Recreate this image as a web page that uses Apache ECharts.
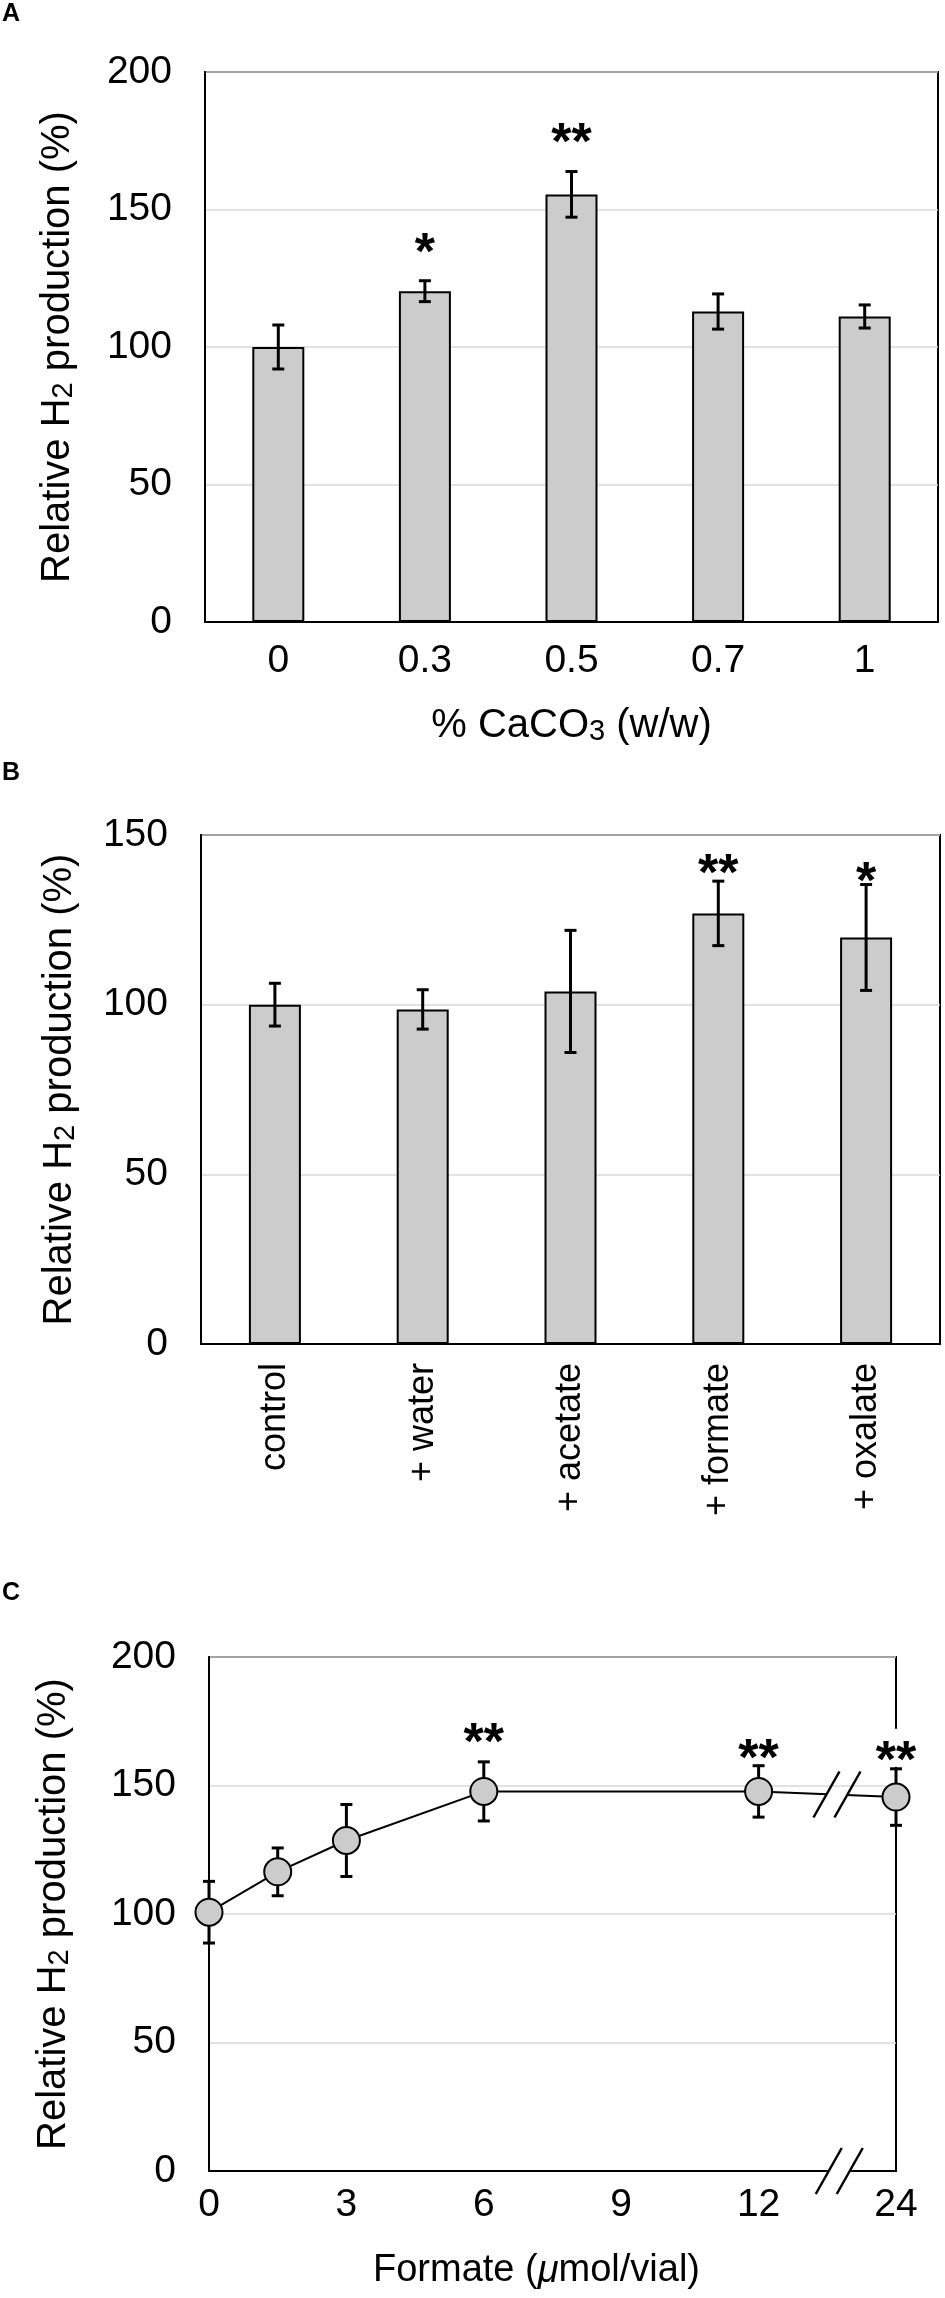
<!DOCTYPE html>
<html lang="en">

<head>
    <meta charset="UTF-8">
    <title>Relative H2 production</title>
    <script src="https://cdn.jsdelivr.net/npm/echarts@6.0.0/dist/echarts.min.js"></script>
    <style>
        body { margin: 0; background: #fff; }
        #main { width: 945px; height: 2298px; }
    </style>
</head>

<body>
    <div id="main"></div>
</body>
<script>
    // panel A: CaCO3 dose
    var catsA = ['0', '0.3', '0.5', '0.7', '1'];
    var meanA = [100, 120.3, 155.5, 112.9, 111.1];
    var errA = [8, 3.8, 8.3, 6.4, 4.2];
    var sigA = ['', '*', '**', '', ''];
    var sigYA = [null, 138, 178, null, null];

    // panel B: additives
    var catsB = ['control', '+ water', '+ acetate', '+ formate', '+ oxalate'];
    var meanB = [100, 98.6, 103.9, 126.9, 119.8];
    var errB = [6.3, 5.8, 18, 9.5, 15.6];
    var sigB = ['', '', '', '**', '*'];
    var sigYB = [null, null, null, 141.5, 139.2];

    // panel C: formate dose (24 sits after the axis break, at position 15)
    var doseC = [0, 1.5, 3, 6, 12, 24];
    var meanC = [100.7, 116.4, 128.6, 147.7, 147.7, 145.5];
    var errC = [12, 9.3, 14, 11.5, 10, 11];
    var sigC = ['', '', '', '**', '**', '**'];
    var sigYC = [null, null, null, 170.5, 164.4, 163.5];
    var tickC = { 0: '0', 3: '3', 6: '6', 9: '9', 12: '12', 15: '24' };
    var breaksC = [[13.7, 146.5], [13.75, 0]];

    var FONT = '"Liberation Sans", Arial, Helvetica, sans-serif';

    function pos(d) {
        return d > 12 ? 15 : d;
    }

    var chart = echarts.init(document.getElementById('main'), null, { renderer: 'canvas' });

    // small digit sitting on the baseline (H2, CaCO3)
    var subRich = {
        a: { fontSize: 40, fontFamily: FONT, color: '#000', lineHeight: 48 },
        b: { fontSize: 29, fontFamily: FONT, color: '#000', verticalAlign: 'bottom', padding: [0, 0, 4, 0] }
    };

    function yAxis(grid, max, gap) {
        return {
            type: 'value',
            gridIndex: grid,
            min: 0,
            max: max,
            interval: 50,
            axisLine: { show: true, lineStyle: { color: '#000', width: 2 } },
            axisTick: { show: false },
            axisLabel: { fontSize: 39, fontFamily: FONT, color: '#000', margin: 33 },
            splitLine: { show: true, lineStyle: { color: '#d9d9d9', width: 1.5 } },
            name: '{a|Relative H}{b|2}{a| production (%)}',
            nameLocation: 'middle',
            nameRotate: 90,
            nameGap: gap,
            nameTextStyle: { rich: subRich }
        };
    }

    function errorSeries(idx, data) {
        return {
            type: 'custom',
            xAxisIndex: idx,
            yAxisIndex: idx,
            z: 3,
            silent: true,
            data: data,
            renderItem: function (params, api) {
                var lo = api.coord([api.value(0), api.value(1)]);
                var hi = api.coord([api.value(0), api.value(2)]);
                var w = 6;
                var st = { stroke: '#000', lineWidth: 3 };
                return {
                    type: 'group',
                    children: [
                        { type: 'line', shape: { x1: lo[0], y1: lo[1], x2: hi[0], y2: hi[1] }, style: st },
                        { type: 'line', shape: { x1: lo[0] - w, y1: lo[1], x2: lo[0] + w, y2: lo[1] }, style: st },
                        { type: 'line', shape: { x1: hi[0] - w, y1: hi[1], x2: hi[0] + w, y2: hi[1] }, style: st }
                    ]
                };
            }
        };
    }

    function starSeries(idx, items, cutLast) {
        return {
            type: 'custom',
            xAxisIndex: idx,
            yAxisIndex: idx,
            z: 6,
            silent: true,
            data: items.map(function (it) { return [it[0], it[1]]; }),
            renderItem: function (params, api) {
                var p = api.coord([api.value(0), api.value(1)]);
                var kids = [];
                if (cutLast && params.dataIndex === items.length - 1) {
                    kids.push({ type: 'rect', shape: { x: p[0] - 10, y: p[1] - 22, width: 20, height: 38 }, style: { fill: '#fff' } });
                }
                kids.push({
                    type: 'text',
                    x: p[0],
                    y: p[1] + 12,
                    style: {
                        text: items[params.dataIndex][2],
                        fontSize: 52,
                        fontWeight: 'bold',
                        fontFamily: FONT,
                        fill: '#000',
                        align: 'center',
                        verticalAlign: 'middle'
                    }
                });
                return { type: 'group', children: kids };
            }
        };
    }

    function sigItems(xs, ys, marks) {
        var out = [];
        marks.forEach(function (m, i) {
            if (m) out.push([xs[i], ys[i], m]);
        });
        return out;
    }

    var idxA = catsA.map(function (c, i) { return i; });
    var idxB = catsB.map(function (c, i) { return i; });
    var posC = doseC.map(pos);

    var barStyle = { color: '#cccccc', borderColor: '#000', borderWidth: 2 };
    var letterStyle = { fontSize: 25, fontWeight: 'bold', fontFamily: FONT, color: '#000' };

    var option = {
        animation: false,
        backgroundColor: '#fff',
        title: [
            { text: 'A', left: 2, top: 2, padding: 0, textStyle: letterStyle },
            { text: 'B', left: 2, top: 761, padding: 0, textStyle: letterStyle },
            { text: 'C', left: 2, top: 1581, padding: 0, textStyle: letterStyle }
        ],
        grid: [
            { left: 205, top: 72, width: 733, height: 550, show: true, borderColor: '#000', borderWidth: 2, backgroundColor: 'transparent' },
            { left: 201, top: 835, width: 739, height: 509, show: true, borderColor: '#000', borderWidth: 2, backgroundColor: 'transparent' },
            { left: 209, top: 1657, width: 687, height: 514, show: true, borderColor: '#000', borderWidth: 2, backgroundColor: 'transparent' }
        ],
        xAxis: [
            {
                type: 'category',
                gridIndex: 0,
                data: catsA,
                axisLine: { lineStyle: { color: '#000', width: 2 } },
                axisTick: { show: false },
                axisLabel: { fontSize: 39, fontFamily: FONT, color: '#000', margin: 20 },
                name: '{a|% CaCO}{b|3}{a| (w/w)}',
                nameLocation: 'middle',
                nameGap: 80,
                nameTextStyle: { rich: subRich }
            },
            {
                type: 'category',
                gridIndex: 1,
                data: catsB,
                axisLine: { lineStyle: { color: '#000', width: 2 } },
                axisTick: { show: false },
                axisLabel: { fontSize: 36, fontFamily: FONT, color: '#000', margin: 19, rotate: 90, interval: 0 }
            },
            {
                type: 'value',
                gridIndex: 2,
                min: 0,
                max: 15,
                interval: 3,
                axisLine: { lineStyle: { color: '#000', width: 2 } },
                axisTick: { show: false },
                splitLine: { show: false },
                axisLabel: {
                    fontSize: 39, fontFamily: FONT, color: '#000', margin: 15,
                    formatter: function (v) { return tickC[v]; }
                },
                name: '{a|Formate (}{i|μ}{a|mol/vial)}',
                nameLocation: 'middle',
                nameGap: 77,
                nameTextStyle: {
                    padding: [0, 32, 0, 0],
                    rich: {
                        a: { fontSize: 38, fontFamily: FONT, color: '#000', lineHeight: 46 },
                        i: { fontSize: 38, fontFamily: FONT, color: '#000', lineHeight: 46, fontStyle: 'italic' }
                    }
                }
            }
        ],
        yAxis: [
            yAxis(0, 200, 123),
            yAxis(1, 150, 117),
            yAxis(2, 200, 131)
        ],
        series: [
            { type: 'bar', xAxisIndex: 0, yAxisIndex: 0, data: meanA, barWidth: 52, itemStyle: barStyle, z: 2, silent: true },
            errorSeries(0, meanA.map(function (m, i) { return [i, m - errA[i], m + errA[i]]; })),
            starSeries(0, sigItems(idxA, sigYA, sigA), false),

            { type: 'bar', xAxisIndex: 1, yAxisIndex: 1, data: meanB, barWidth: 52, itemStyle: barStyle, z: 2, silent: true },
            errorSeries(1, meanB.map(function (m, i) { return [i, m - errB[i], m + errB[i]]; })),
            starSeries(1, sigItems(idxB, sigYB, sigB), false),

            errorSeries(2, meanC.map(function (m, i) { return [posC[i], m - errC[i], m + errC[i]]; })),
            {
                type: 'line',
                xAxisIndex: 2,
                yAxisIndex: 2,
                z: 4,
                silent: true,
                data: meanC.map(function (m, i) { return [posC[i], m]; }),
                symbol: 'circle',
                symbolSize: 27,
                lineStyle: { color: '#000', width: 2 },
                itemStyle: { color: '#cccccc', borderColor: '#000', borderWidth: 2 }
            },
            starSeries(2, sigItems(posC, sigYC, sigC), true),
            {
                // axis break marks
                type: 'custom',
                xAxisIndex: 2,
                yAxisIndex: 2,
                z: 7,
                silent: true,
                data: breaksC,
                renderItem: function (params, api) {
                    var c = api.coord([api.value(0), api.value(1)]);
                    var st = { stroke: '#000', lineWidth: 2.5 };
                    var a = c[0] - 10, b = c[0] + 11;
                    return {
                        type: 'group',
                        children: [
                            { type: 'rect', shape: { x: a, y: c[1] - 5, width: b - a, height: 10 }, style: { fill: '#fff' } },
                            { type: 'line', shape: { x1: a - 13, y1: c[1] + 23, x2: a + 13, y2: c[1] - 23 }, style: st },
                            { type: 'line', shape: { x1: b - 13, y1: c[1] + 23, x2: b + 13, y2: c[1] - 23 }, style: st }
                        ]
                    };
                }
            }
        ]
    };

    chart.setOption(option);
</script>

</html>
